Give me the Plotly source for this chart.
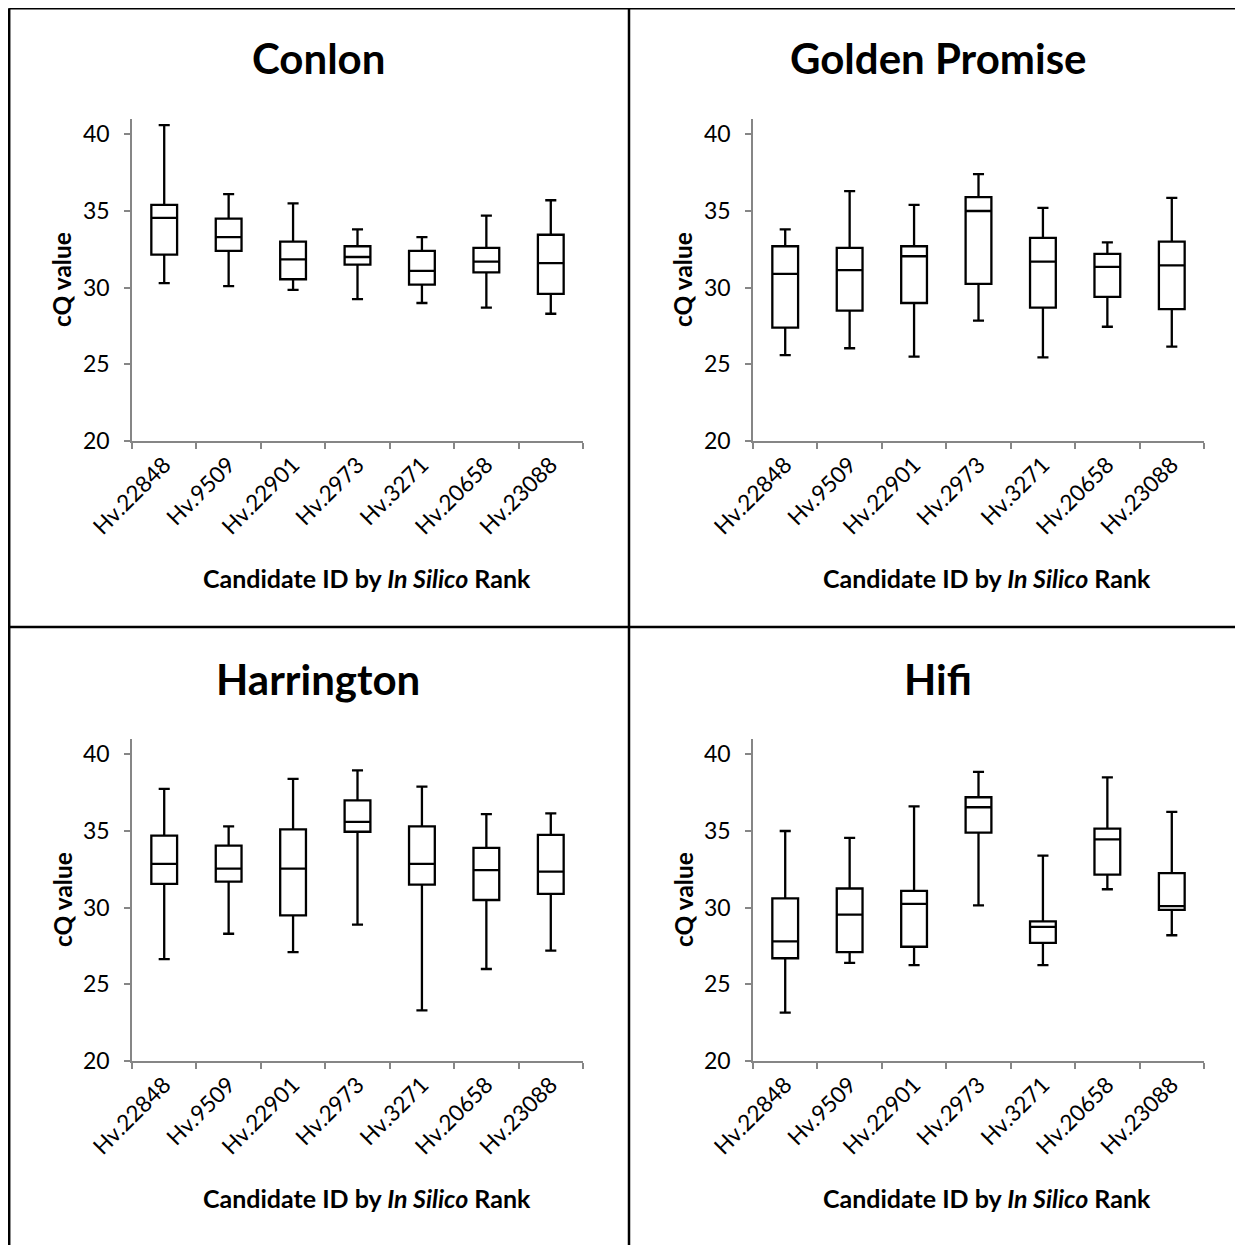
import plotly.graph_objects as go

# the page body adds an 8px margin; the figure is sized and placed to compensate
OFF = 8
W, H = 1243 - OFF, 1245 - OFF

candidates = ["Hv.22848", "Hv.9509", "Hv.22901", "Hv.2973", "Hv.3271", "Hv.20658", "Hv.23088"]
cultivars = ["Conlon", "Golden Promise", "Harrington", "Hifi"]

# five-number summaries
conlon_min = [30.3, 30.1, 29.85, 29.25, 29.0, 28.7, 28.3]
conlon_q1 = [32.15, 32.4, 30.55, 31.5, 30.2, 31.0, 29.6]
conlon_med = [34.55, 33.3, 31.85, 32.0, 31.1, 31.7, 31.6]
conlon_q3 = [35.4, 34.5, 33.0, 32.7, 32.4, 32.6, 33.45]
conlon_max = [40.6, 36.1, 35.5, 33.8, 33.3, 34.7, 35.7]

gp_min = [25.6, 26.05, 25.5, 27.85, 25.45, 27.45, 26.15]
gp_q1 = [27.4, 28.5, 29.0, 30.25, 28.7, 29.4, 28.6]
gp_med = [30.9, 31.15, 32.05, 35.0, 31.7, 31.35, 31.45]
gp_q3 = [32.7, 32.6, 32.7, 35.9, 33.25, 32.2, 33.0]
gp_max = [33.8, 36.3, 35.4, 37.4, 35.2, 32.95, 35.85]

har_min = [26.65, 28.3, 27.1, 28.9, 23.3, 26.0, 27.2]
har_q1 = [31.55, 31.7, 29.5, 34.95, 31.5, 30.5, 30.9]
har_med = [32.85, 32.55, 32.55, 35.6, 32.85, 32.45, 32.35]
har_q3 = [34.7, 34.05, 35.1, 37.0, 35.3, 33.9, 34.75]
har_max = [37.75, 35.3, 38.4, 38.95, 37.9, 36.1, 36.15]

hifi_min = [23.15, 26.4, 26.25, 30.15, 26.25, 31.2, 28.2]
hifi_q1 = [26.7, 27.1, 27.45, 34.9, 27.7, 32.15, 29.85]
hifi_med = [27.8, 29.55, 30.25, 36.55, 28.75, 34.45, 30.1]
hifi_q3 = [30.6, 31.25, 31.1, 37.2, 29.1, 35.15, 32.25]
hifi_max = [35.0, 34.55, 36.6, 38.85, 33.4, 38.5, 36.25]

y_ticks = [20, 25, 30, 35, 40]

series = [
    (conlon_min, conlon_q1, conlon_med, conlon_q3, conlon_max),
    (gp_min, gp_q1, gp_med, gp_q3, gp_max),
    (har_min, har_q1, har_med, har_q3, har_max),
    (hifi_min, hifi_q1, hifi_med, hifi_q3, hifi_max),
]

FONT = "Lato"

def px(x):
    return (x - OFF) / W

def py(y):
    return 1 - (y - OFF) / H

# plot areas in screen pixels: (left, right, top, bottom)
areas = [
    (132, 583, 119, 441),
    (753, 1204, 119, 441),
    (132, 583, 739, 1061),
    (753, 1204, 739, 1061),
]
title_x = [318.5, 938, 318.5, 938]
title_y = [58, 58, 679, 679]

fig = go.Figure()
layout = dict(
    width=W, height=H, autosize=False,
    margin=dict(l=0, r=0, t=0, b=0, pad=0, autoexpand=False),
    paper_bgcolor="white", plot_bgcolor="white",
    showlegend=False,
    font=dict(family=FONT, color="black"),
    shapes=[], annotations=[],
)

for i, (name, (mn, q1, med, q3, mx), (l, r, t, b)) in enumerate(zip(cultivars, series, areas)):
    xa = "x" if i == 0 else f"x{i+1}"
    ya = "y" if i == 0 else f"y{i+1}"
    fig.add_trace(go.Box(
        x=candidates, lowerfence=mn, q1=q1, median=med, q3=q3, upperfence=mx,
        xaxis=xa, yaxis=ya,
        fillcolor="white", line=dict(color="black", width=2.3),
        width=0.4, whiskerwidth=0.43, boxpoints=False, hoverinfo="skip",
    ))
    xkey = "xaxis" if i == 0 else f"xaxis{i+1}"
    ykey = "yaxis" if i == 0 else f"yaxis{i+1}"
    layout[xkey] = dict(
        domain=[px(l), px(r)], anchor=ya, type="category", automargin=False,
        categoryorder="array", categoryarray=candidates,
        range=[-0.5, 6.5], tickson="boundaries",
        ticks="outside", ticklen=6, tickcolor="#868686", tickwidth=1.5,
        showline=True, linecolor="#868686", linewidth=1.5,
        showgrid=False, zeroline=False, tickangle=-45,
        tickfont=dict(family=FONT, size=22.5, color="black"),
    )
    layout[ykey] = dict(
        domain=[py(b), py(t)], anchor=xa, automargin=False,
        range=[20, 41], tickvals=y_ticks,
        ticks="outside", ticklen=6, tickcolor="#868686", tickwidth=1.5,
        showline=True, linecolor="#868686", linewidth=1.5,
        showgrid=False, zeroline=False, ticklabelstandoff=10,
        tickfont=dict(family=FONT, size=23, color="black"),
    )
    cx = (l + r) / 2
    layout["annotations"].append(dict(
        text=f"<b>{name}</b>", x=px(title_x[i]), y=py(title_y[i]),
        xref="paper", yref="paper",
        xanchor="center", yanchor="middle", showarrow=False,
        font=dict(family=FONT, size=42, color="black"),
    ))
    layout["annotations"].append(dict(
        text="<b>Candidate ID by <i>In Silico</i> Rank</b>",
        x=px(cx + 9), y=py(b + 137), xref="paper", yref="paper",
        xanchor="center", yanchor="middle", showarrow=False,
        font=dict(family=FONT, size=25, color="black"),
    ))
    layout["annotations"].append(dict(
        text="<b>cQ value</b>", textangle=-90,
        x=px(l - 70), y=py((t + b) / 2), xref="paper", yref="paper",
        xanchor="center", yanchor="middle", showarrow=False,
        font=dict(family=FONT, size=24.5, color="black"),
    ))

# panel borders
border = dict(type="line", xref="paper", yref="paper", line=dict(color="black", width=2.5))
layout["shapes"] = [
    dict(border, x0=px(9.2), x1=px(9.2), y0=0, y1=py(8.2)),
    dict(border, x0=px(9.2), x1=1, y0=py(8.2), y1=py(8.2)),
    dict(border, x0=px(629), x1=px(629), y0=0, y1=py(8.2)),
    dict(border, x0=px(9.2), x1=1, y0=py(627), y1=py(627)),
]

fig.update_layout(**layout)
fig.write_html("out.html")
